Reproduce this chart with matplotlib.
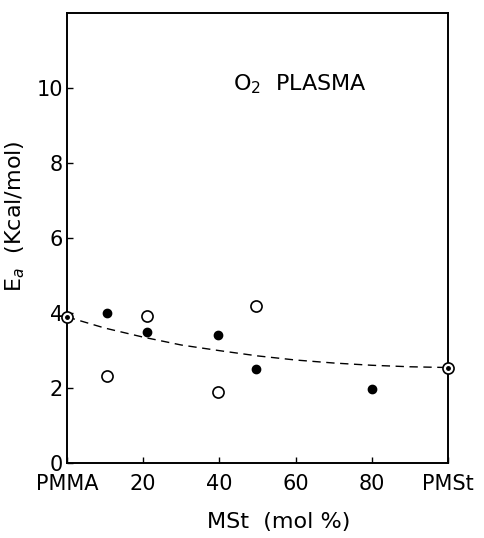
import matplotlib
matplotlib.use("Agg")
import matplotlib.pyplot as plt
import numpy as np

# Data
open_x = [10.5, 21, 39.5, 49.5]
open_y = [2.33, 3.91, 1.9, 4.18]
filled_x = [10.5, 21, 39.5, 49.5, 80]
filled_y = [4.0, 3.5, 3.41, 2.5, 1.98]
homo_x = [0, 100]
homo_y = [3.9, 2.55]
curve_x = [0, 10, 20, 30, 40, 50, 60, 70, 80, 90, 100]
curve_y = [3.9, 3.6, 3.36, 3.15, 3.0, 2.86, 2.75, 2.67, 2.61, 2.57, 2.55]
xticks = [0, 20, 40, 60, 80, 100]
xticklabels = ["PMMA", "20", "40", "60", "80", "PMSt"]
yticks = [0, 2, 4, 6, 8, 10]

plt.rcParams['font.family'] = ['DejaVu Sans']
fig = plt.figure(figsize=(4.85, 5.38), dpi=100)
ax = fig.add_axes([0.138, 0.139, 0.786, 0.837])

ax.plot(curve_x, curve_y, ls=(0, (6, 4)), color='black', lw=1.0, zorder=2)
ax.plot(open_x, open_y, 'o', ms=8, mfc='white', mec='black', mew=1.2, ls='none', zorder=3)
ax.plot(filled_x, filled_y, 'o', ms=6, mfc='black', mec='black', ls='none', zorder=3)
ax.plot(homo_x, homo_y, 'o', ms=8, mfc='white', mec='black', mew=1.2, ls='none', zorder=4, clip_on=False)
ax.plot(homo_x, homo_y, 'o', ms=2.5, mfc='black', mec='black', ls='none', zorder=5, clip_on=False)

ax.set_xlim(0, 100)
ax.set_ylim(0, 12)
ax.set_xticks(xticks)
ax.set_xticklabels(xticklabels)
ax.set_yticks(yticks)
ax.tick_params(direction='in', length=4, width=1.0, labelsize=15)
ax.tick_params(axis='x', pad=8)
ax.tick_params(axis='y', pad=3)
for s in ax.spines.values():
    s.set_linewidth(1.4)

ax.text(43.5, 10.1, "O$_2$  PLASMA", fontsize=16, va='center', ha='left')
ax.set_xlabel("MSt  (mol %)", fontsize=16)
ax.set_ylabel("E$_a$  (Kcal/mol)", fontsize=16)
ax.xaxis.set_label_coords(0.556, -0.108)
ax.yaxis.set_label_coords(-0.105, 0.549)

fig.savefig("out.png", dpi=100)
